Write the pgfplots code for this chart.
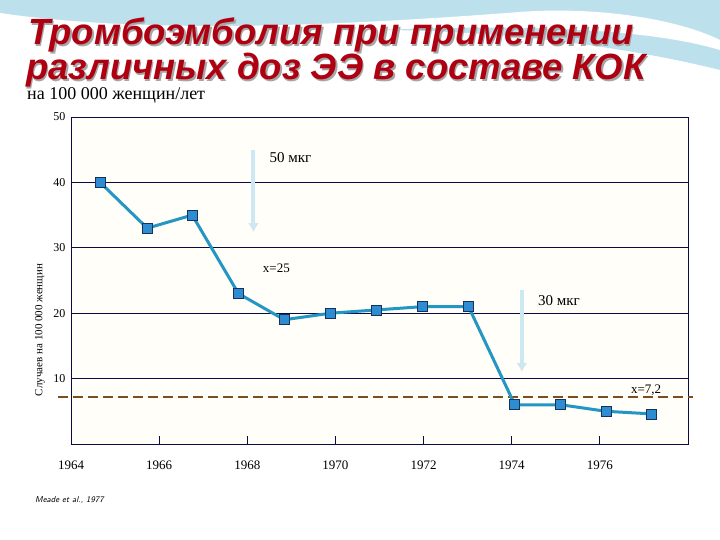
\documentclass[border=0pt]{standalone}
\usepackage{fontspec}
\setmainfont{Liberation Serif}
\newfontfamily\titlefont{Liberation Sans}
\usepackage{pgfplots}
\pgfplotsset{compat=1.18}
\usetikzlibrary{arrows.meta}

\definecolor{titlered}{RGB}{175,0,18}
\definecolor{gridnavy}{RGB}{10,10,70}
\definecolor{seriesline}{RGB}{35,150,195}
\definecolor{markfill}{RGB}{45,140,210}
\definecolor{markedge}{RGB}{20,50,90}
\definecolor{dashbrown}{RGB}{125,78,28}
\definecolor{arrowblue}{RGB}{205,232,242}
\definecolor{swirl}{RGB}{160,212,230}
\definecolor{plotbg}{RGB}{255,254,248}

\begin{document}
\begin{tikzpicture}[x=1pt,y=1pt]
\useasboundingbox (0,0) rectangle (720,540);
\fill[white] (0,0) rectangle (720,540);
% slide decoration at the top
\fill[swirl!70] (0,540) -- (720,540) -- (720,470) .. controls (600,500) and (420,520) .. (250,505) .. controls (150,497) and (60,500) .. (0,515) -- cycle;
\fill[white] (0,527) .. controls (150,505) and (350,515) .. (520,528) .. controls (600,534) and (680,520) .. (720,500) -- (720,490) .. controls (620,520) and (420,515) .. (250,503) .. controls (150,496) and (60,500) .. (0,512) -- cycle;

% title with a soft shadow
\node[anchor=base west, inner sep=0pt, text=black!35, font=\titlefont\bfseries\itshape\fontsize{36.5}{36.5}\selectfont] at (29.5,493.5) {Тромбоэмболия при применении};
\node[anchor=base west, inner sep=0pt, text=titlered, font=\titlefont\bfseries\itshape\fontsize{36.5}{36.5}\selectfont] at (28,495) {Тромбоэмболия при применении};
\node[anchor=base west, inner sep=0pt, text=black!35, font=\titlefont\bfseries\itshape\fontsize{36.5}{36.5}\selectfont] at (27.5,458.5) {различных доз ЭЭ в составе КОК};
\node[anchor=base west, inner sep=0pt, text=titlered, font=\titlefont\bfseries\itshape\fontsize{36.5}{36.5}\selectfont] at (26,460) {различных доз ЭЭ в составе КОК};
\node[anchor=base west, inner sep=0pt, font=\fontsize{18}{18}\selectfont] at (27,440) {на 100 000 женщин/лет};

\node[rotate=90, font=\fontsize{11}{11}\selectfont] at (40,210) {Случаев на 100 000 женщин};
\node[anchor=west, inner sep=0pt, font=\sffamily\itshape\fontsize{8.5}{8.5}\selectfont] at (35,40) {Meade et al., 1977};

\begin{axis}[
  at={(71pt,96pt)}, anchor=south west,
  scale only axis, width=617pt, height=327pt,
  xmin=1964, xmax=1978, ymin=0, ymax=50,
  clip=false,
  axis background/.style={fill=plotbg},
  axis line style={gridnavy, line width=0.9pt},
  xtick={1964,1966,...,1976},
  ytick={10,20,...,50},
  xtick pos=bottom, ytick pos=left,
  xtick align=inside,
  major tick length=8pt,
  x tick style={gridnavy, line width=0.8pt},
  y tick style={draw=none},
  ymajorgrids,
  major grid style={gridnavy, line width=0.8pt},
  /pgf/number format/assume math mode=true,
  /pgf/number format/1000 sep={},
  xticklabel style={font=\fontsize{13}{13}\selectfont, yshift=-13pt},
  yticklabel style={font=\fontsize{12}{12}\selectfont, xshift=-2pt},
]
% dose change arrows
\draw[arrowblue, line width=4pt, -{Latex[length=9pt,width=11pt]}] (axis cs:1968.14,44.9) -- (axis cs:1968.14,32.4);
\draw[arrowblue, line width=4pt, -{Latex[length=9pt,width=11pt]}] (axis cs:1974.23,23.5) -- (axis cs:1974.23,11);

\addplot[dashbrown, line width=2.5pt, dash pattern=on 10pt off 5pt, forget plot]
  coordinates {(1963.7,7.2) (1978.12,7.2)};

\addplot[seriesline, line width=3pt, mark=square*, mark size=5pt,
  mark options={solid, fill=markfill, draw=markedge, line width=0.8pt}]
  coordinates {
    (1964.66,40) (1965.73,33) (1966.75,35) (1967.80,23) (1968.84,19)
    (1969.89,20) (1970.93,20.5) (1971.98,21) (1973.02,21)
    (1974.07,6) (1975.11,6) (1976.14,5) (1977.18,4.6)
  };

\node[font=\fontsize{15}{15}\selectfont] at (axis cs:1968.98,43.8) {50 мкг};
\node[font=\fontsize{13}{13}\selectfont] at (axis cs:1968.66,26.8) {x=25};
\node[font=\fontsize{15}{15}\selectfont] at (axis cs:1975.07,21.9) {30 мкг};
\node[font=\fontsize{13}{13}\selectfont] at (axis cs:1977.05,8.3) {x=7,2};
\end{axis}
\end{tikzpicture}
\end{document}
